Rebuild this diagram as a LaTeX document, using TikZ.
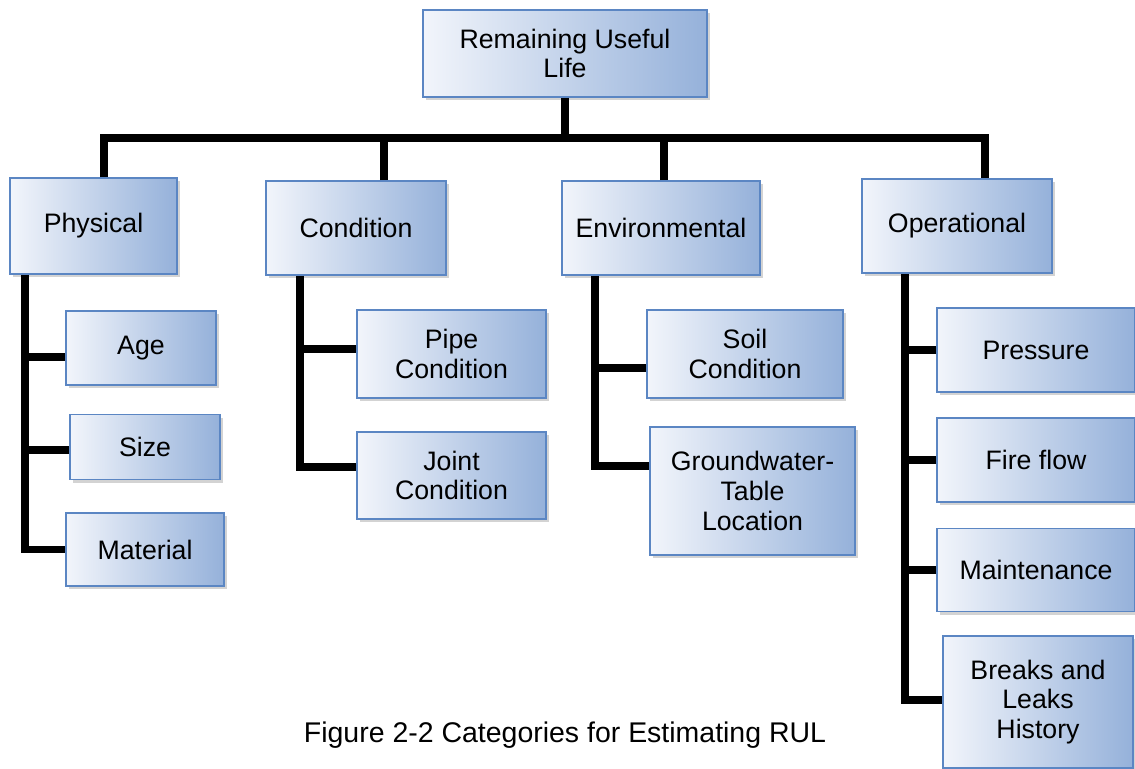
\documentclass[tikz,border=0pt]{standalone}
\usepackage{fontspec}
\setmainfont{Liberation Sans}
\usetikzlibrary{shadows}
\definecolor{boxline}{HTML}{5B86C3}
\definecolor{boxleft}{HTML}{F2F5FB}
\definecolor{boxright}{HTML}{95B1DA}
\tikzset{
	box/.style={draw=boxline, line width=0.9pt, left color=boxleft, right color=boxright,
		drop shadow={shadow xshift=1.6pt, shadow yshift=-1.8pt, opacity=0.35},
		align=center, inner sep=2pt, font=\fontsize{15.2}{17}\selectfont},
	bar/.style={line width=4.3pt, line join=miter}
}
\begin{document}
\begin{tikzpicture}
		\useasboundingbox (0,0) rectangle (22.7,-15.36);
		% top level
		\node[box, minimum width=5.68cm, minimum height=1.74cm] (rul) at (11.3,-1.07) {Remaining Useful\\Life};
		% categories
		\node[box, minimum width=3.34cm, minimum height=1.92cm] (phys) at (1.87,-4.52) {Physical};
		\node[box, minimum width=3.6cm, minimum height=1.88cm] (cond) at (7.12,-4.56) {Condition};
		\node[box, minimum width=3.96cm, minimum height=1.88cm] (env) at (13.22,-4.56) {Environmental};
		\node[box, minimum width=3.8cm, minimum height=1.88cm] (oper) at (19.14,-4.52) {Operational};
		% physical
		\node[box, minimum width=3.0cm, minimum height=1.48cm] (age) at (2.82,-6.96) {Age};
		\node[box, minimum width=3.0cm, minimum height=1.3cm] (size) at (2.9,-8.94) {Size};
		\node[box, minimum width=3.16cm, minimum height=1.46cm] (mat) at (2.9,-10.99) {Material};
		% condition
		\node[box, minimum width=3.78cm, minimum height=1.76cm] (pipe) at (9.03,-7.08) {Pipe\\Condition};
		\node[box, minimum width=3.78cm, minimum height=1.74cm] (joint) at (9.03,-9.51) {Joint\\Condition};
		% environmental
		\node[box, minimum width=3.92cm, minimum height=1.76cm] (soil) at (14.9,-7.08) {Soil\\Condition};
		\node[box, minimum width=4.1cm, minimum height=2.56cm] (ground) at (15.05,-9.82) {Groundwater-\\Table\\Location};
		% operational
		\node[box, minimum width=3.96cm, minimum height=1.68cm] (press) at (20.72,-7.0) {Pressure};
		\node[box, minimum width=3.96cm, minimum height=1.68cm] (fire) at (20.72,-9.2) {Fire flow};
		\node[box, minimum width=3.96cm, minimum height=1.66cm] (maint) at (20.72,-11.4) {Maintenance};
		\node[box, minimum width=3.8cm, minimum height=2.64cm] (breaks) at (20.76,-14.04) {Breaks and\\Leaks\\History};
		% caption
		\node[font=\fontsize{16.2}{19}\selectfont] (cap) at (11.3,-14.7) {Figure 2-2 Categories for Estimating RUL};
		% bus
		\coordinate (busl) at (2.08,-2.76);
		\coordinate (busr) at (19.7,-2.76);
		\draw[bar] (phys.north -| busl) -- (busl) -- (busr) -- (oper.north -| busr);
		\draw[bar] (rul.south) -- (rul.south |- busl);
		\draw[bar] ([xshift=0.56cm]cond.north) -- ([xshift=0.56cm]cond.north |- busl);
		\draw[bar] ([xshift=0.06cm]env.north) -- ([xshift=0.06cm]env.north |- busl);
		% branches
		\coordinate (physbar) at ([xshift=-1.37cm]phys.south);
		\draw[bar] (physbar) |- (mat.west);
		\draw[bar] ([yshift=-0.18cm]age.west) -- ([yshift=-0.18cm]age.west -| physbar);
		\draw[bar] ([yshift=-0.06cm]size.west) -- ([yshift=-0.06cm]size.west -| physbar);
		\coordinate (condbar) at ([xshift=-1.12cm]cond.south);
		\draw[bar] (condbar) |- ([yshift=0.17cm]joint.west);
		\draw[bar] ([yshift=0.1cm]pipe.west) -- ([yshift=0.1cm]pipe.west -| condbar);
		\coordinate (envbar) at ([xshift=-1.32cm]env.south);
		\draw[bar] (envbar) |- ([yshift=0.5cm]ground.west);
		\draw[bar] ([yshift=-0.28cm]soil.west) -- ([yshift=-0.28cm]soil.west -| envbar);
		\coordinate (operbar) at ([xshift=-1.04cm]oper.south);
		\draw[bar] (operbar) |- ([yshift=0.04cm]breaks.west);
		\draw[bar] (press.west) -- (press.west -| operbar);
		\draw[bar] (fire.west) -- (fire.west -| operbar);
		\draw[bar] (maint.west) -- (maint.west -| operbar);
	\end{tikzpicture}
\end{document}
